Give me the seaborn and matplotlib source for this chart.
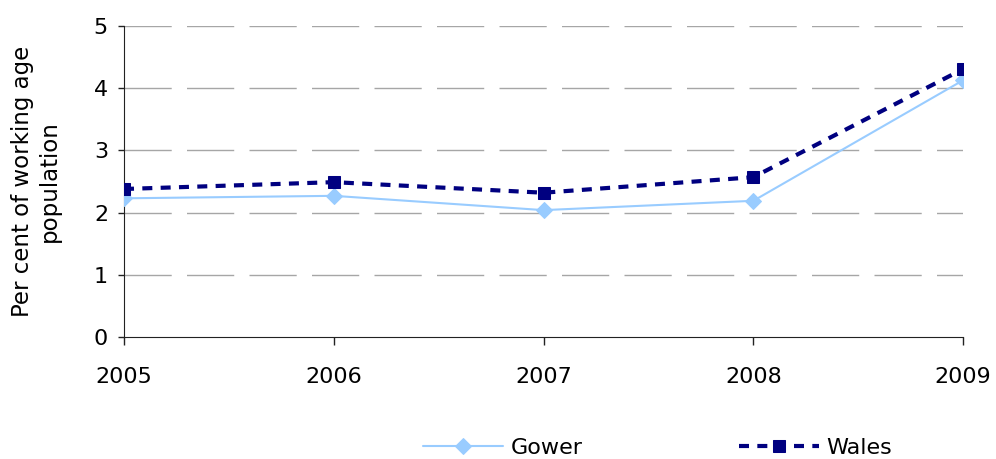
import matplotlib
matplotlib.use("Agg")
import matplotlib.pyplot as plt
import seaborn as sns
import pandas as pd

years = [2005, 2006, 2007, 2008, 2009]
gower = [2.23, 2.27, 2.04, 2.19, 4.13]
wales = [2.38, 2.49, 2.32, 2.57, 4.31]

sns.set_style("white")
plt.rcParams['font.family'] = ['DejaVu Sans']
plt.rcParams['text.color'] = 'black'

df_g = pd.DataFrame({"year": years, "value": gower})
df_w = pd.DataFrame({"year": years, "value": wales})

fig = plt.figure(figsize=(9.96, 4.59), dpi=100)
ax = fig.add_axes([0.1245, 0.266, 0.8425, 0.677])

for y in [1, 2, 3, 4, 5]:
    ax.axhline(y, color="#a6a6a6", lw=1.0, ls=(0, (34, 11)), zorder=0)

sns.lineplot(data=df_g, x="year", y="value", ax=ax, color="#99ccff", lw=1.5,
             marker="D", markersize=8, markeredgecolor="#99ccff", label="Gower", zorder=3)
sns.lineplot(data=df_w, x="year", y="value", ax=ax, color="#000080", lw=3.0,
             marker="s", markersize=9, markeredgecolor="#000080", label="Wales",
             dashes=(2.4, 2.0), zorder=4)

ax.set_xlim(2005, 2009)
ax.set_ylim(0, 5)
ax.set_xticks(years)
ax.set_xticklabels([str(y) for y in years])
ax.set_yticks([0, 1, 2, 3, 4, 5])
ax.tick_params(axis="both", labelsize=16, direction="out", width=1,
               color="#222222", labelcolor="black", bottom=True, left=True)
ax.tick_params(axis="x", length=6, pad=16)
ax.tick_params(axis="y", length=4.5, pad=7)
for s in ["top", "right"]:
    ax.spines[s].set_visible(False)
ax.spines["left"].set_color("#222222")
ax.spines["bottom"].set_color("#222222")
ax.set_xlabel("")
ax.set_ylabel("Per cent of working age\npopulation", fontsize=16.5, color="black",
              labelpad=24)

ax.legend(loc="center", bbox_to_anchor=(0.636, -0.357), ncol=2, frameon=False,
          fontsize=16, handlelength=3.6, columnspacing=7.0, handletextpad=0.35,
          labelcolor="black")

fig.savefig("out.png", dpi=100)
